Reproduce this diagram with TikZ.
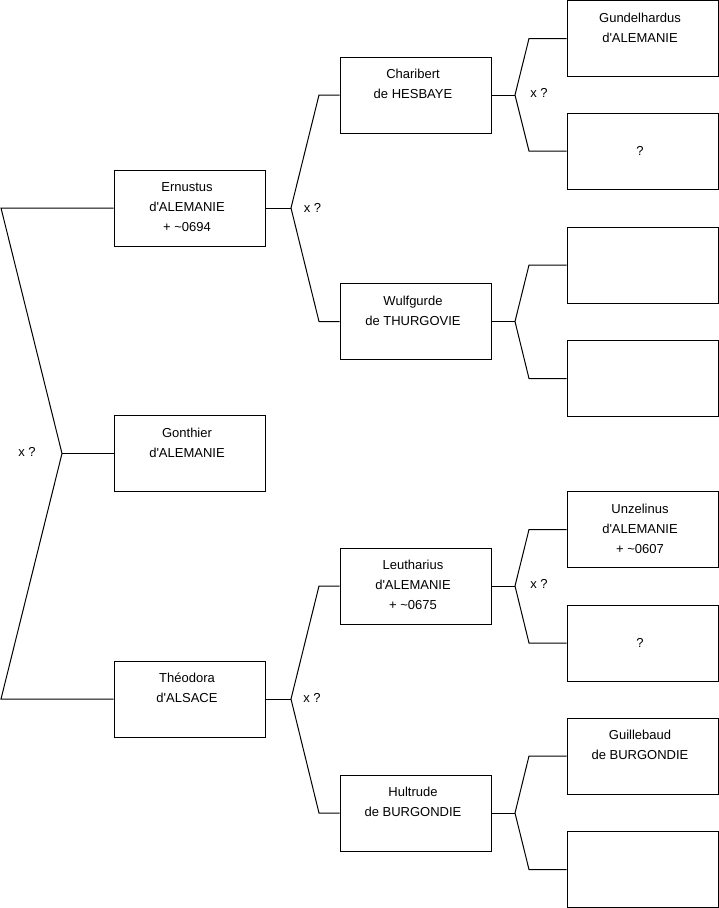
\documentclass[tikz,border=0pt]{standalone}
\usepackage{fontspec}
\setmainfont{Liberation Sans}
\newcommand{\ap}{\textquotesingle}
\newcommand{\tld}{\textasciitilde}
\newcommand{\boxtxt}[1]{\parbox[c][76pt][t]{151pt}{\centering\rightskip=5pt plus 1fil\fontsize{13}{20}\selectfont\vspace*{7.5pt}\strut#1\par}}
\newcommand{\midtxt}[1]{\parbox[c][76pt][c]{151pt}{\centering\rightskip=5pt plus 1fil\fontsize{13}{20}\selectfont\strut#1\par}}
\tikzset{
  pbox/.style={draw=black, line width=1pt, inner sep=0pt, minimum width=151pt, minimum height=76pt},
  link/.style={draw=black, line width=1pt},
  xlab/.style={font=\fontsize{13}{16}\selectfont, inner sep=0pt}
}
\begin{document}
\begin{tikzpicture}[x=1pt,y=-1pt]
\useasboundingbox (0,0) rectangle (719,908);
\fill[white] (0,0) rectangle (719,908);
% generation 1
\node[pbox] (ern)  at (189.5,208) {\boxtxt{Ernustus\\d\ap ALEMANIE\\+ \tld0694}};
\node[pbox] (gon)  at (189.5,453.5) {\boxtxt{Gonthier\\d\ap ALEMANIE}};
\node[pbox] (theo) at (189.5,699) {\boxtxt{Théodora\\d\ap ALSACE}};
% generation 2
\node[pbox] (char) at (415.5,95) {\boxtxt{Charibert\\de HESBAYE}};
\node[pbox] (wulf) at (415.5,321.5) {\boxtxt{Wulfgurde\\de THURGOVIE}};
\node[pbox] (leut) at (415.5,586) {\boxtxt{Leutharius\\d\ap ALEMANIE\\+ \tld0675}};
\node[pbox] (hult) at (415.5,813) {\boxtxt{Hultrude\\de BURGONDIE}};
% generation 3
\node[pbox] (r1) at (642.5,38.5) {\boxtxt{Gundelhardus\\d\ap ALEMANIE}};
\node[pbox] (r2) at (642.5,151) {\midtxt{?}};
\node[pbox] (r3) at (642.5,265) {};
\node[pbox] (r4) at (642.5,378.5) {};
\node[pbox] (r5) at (642.5,529.5) {\boxtxt{Unzelinus\\d\ap ALEMANIE\\+ \tld0607}};
\node[pbox] (r6) at (642.5,643) {\midtxt{?}};
\node[pbox] (r7) at (642.5,756) {\boxtxt{Guillebaud\\de BURGONDIE}};
\node[pbox] (r8) at (642.5,869.5) {};
% junction coordinates
\coordinate (a0) at (1,208);
\coordinate (j0) at (62,453.5);
\coordinate (b0) at (1,699);
\coordinate (j1) at (291,208);
\coordinate (c1) at (319,95);
\coordinate (d1) at (319,321.5);
\coordinate (j2) at (291,699);
\coordinate (c2) at (319,586);
\coordinate (d2) at (319,813);
\coordinate (j3) at (515,95);
\coordinate (c3) at (529,38.5);
\coordinate (d3) at (529,151);
\coordinate (j4) at (515,321.5);
\coordinate (c4) at (529,265);
\coordinate (d4) at (529,378.5);
\coordinate (j5) at (515,586);
\coordinate (c5) at (529,529.5);
\coordinate (d5) at (529,643);
\coordinate (j6) at (515,813);
\coordinate (c6) at (529,756);
\coordinate (d6) at (529,869.5);
% connectors
\draw[link] (ern.west) -- (a0) -- (j0) -- (b0) -- (theo.west);
\draw[link] (j0) -- (gon.west);
\draw[link] (ern.east) -- (j1);
\draw[link] (char.west) -- (c1) -- (j1) -- (d1) -- (wulf.west);
\draw[link] (theo.east) -- (j2);
\draw[link] (leut.west) -- (c2) -- (j2) -- (d2) -- (hult.west);
\draw[link] (char.east) -- (j3);
\draw[link] (r1.west) -- (c3) -- (j3) -- (d3) -- (r2.west);
\draw[link] (wulf.east) -- (j4);
\draw[link] (r3.west) -- (c4) -- (j4) -- (d4) -- (r4.west);
\draw[link] (leut.east) -- (j5);
\draw[link] (r5.west) -- (c5) -- (j5) -- (d5) -- (r6.west);
\draw[link] (hult.east) -- (j6);
\draw[link] (r7.west) -- (c6) -- (j6) -- (d6) -- (r8.west);
% marriage labels
\node[xlab] (x0) at (27,451.5) {x ?};
\node[xlab] (x1) at (312.5,207.5) {x ?};
\node[xlab] (x2) at (539,93) {x ?};
\node[xlab] (x3) at (312,698) {x ?};
\node[xlab] (x4) at (539,584) {x ?};
\end{tikzpicture}
\end{document}
